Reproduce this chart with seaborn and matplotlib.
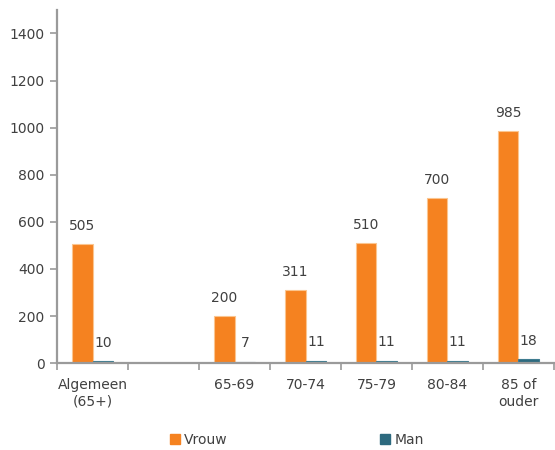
import numpy as np
import pandas as pd
import matplotlib
matplotlib.use("Agg")
import matplotlib.pyplot as plt
import seaborn as sns

# data
categories = ["Algemeen\n(65+)", " ", "65-69", "70-74", "75-79", "80-84", "85 of\nouder"]
vrouw = [505, np.nan, 200, 311, 510, 700, 985]
man = [10, np.nan, 7, 11, 11, 11, 18]
series = ["Vrouw", "Man"]
colors = ["#F58220", "#2D6A7F"]
edges = ["#FBC58F", "#3F7C90"]

df = pd.DataFrame({
    "cat": categories * 2,
    "val": vrouw + man,
    "serie": ["Vrouw"] * len(categories) + ["Man"] * len(categories),
})

sns.set_style("white")
plt.rcParams["font.family"] = ["DejaVu Sans"]
text_col = "#404040"
axis_col = "#9A9A9A"

fig = plt.figure(figsize=(5.55, 4.5), dpi=100)
ax = fig.add_axes([0.103, 0.193, 0.895, 0.785])

sns.barplot(data=df, x="cat", y="val", hue="serie", order=categories,
            hue_order=series, palette=colors, width=0.58, ax=ax,
            legend=False, errorbar=None, saturation=1)

for cont, ec in zip(ax.containers, edges):
    for b in cont:
        b.set_edgecolor(ec)
        b.set_linewidth(0.8)
    labels = ["" if np.isnan(v) else f"{v:.0f}" for v in cont.datavalues]
    ax.bar_label(cont, labels=labels, padding=8, fontsize=10, color=text_col)

ax.set_ylim(0, 1500)
ax.set_yticks(range(0, 1401, 200))
ax.set_xlim(-0.5, len(categories) - 0.5)
ax.set_xticks(np.arange(-0.5, len(categories), 1.0))
ax.set_xticklabels([])
ax.set_xticks(range(len(categories)), minor=True)
ax.set_xticklabels(categories, minor=True)
ax.tick_params(axis="x", which="major", bottom=True, length=5, width=1.2,
               color=axis_col, direction="out")
ax.tick_params(axis="x", which="minor", bottom=True, length=0, pad=11,
               labelsize=10, labelcolor=text_col)
ax.tick_params(axis="y", left=True, length=5, width=1.2, color=axis_col, direction="out",
               labelsize=10, labelcolor=text_col, pad=4)
ax.set_xlabel("")
ax.set_ylabel("")

sns.despine(ax=ax, top=True, right=True)
for s in ["left", "bottom"]:
    ax.spines[s].set_color(axis_col)
    ax.spines[s].set_linewidth(1.6)

handles = [plt.Rectangle((0, 0), 1, 1, color=c) for c in colors]
fig.legend(handles, series, loc="center", bbox_to_anchor=(0.535, 0.022), ncol=2,
           frameon=False, fontsize=10, handlelength=0.7, handleheight=0.7,
           handletextpad=0.3, columnspacing=11, labelcolor=text_col)

fig.savefig("out.png", dpi=100)
